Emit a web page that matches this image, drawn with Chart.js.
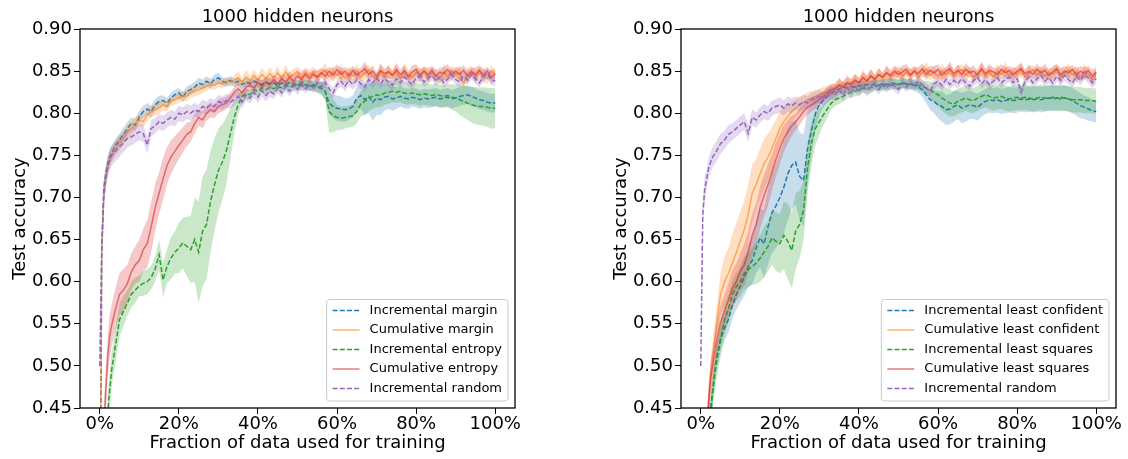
<!DOCTYPE html>
<html>
<head>
<meta charset="utf-8">
<script src="https://cdn.jsdelivr.net/npm/chart.js@4.4.1/dist/chart.umd.min.js"></script>
<style>
  body { margin: 0; background: #fff; width: 1128px; height: 459px; overflow: hidden; position: relative; }
  canvas { position: absolute; top: 0; }
</style>
</head>
<body>
<canvas id="leftChart" width="540" height="459" style="left:0px"></canvas>
<canvas id="rightChart" width="527" height="459" style="left:601px"></canvas>
<script>
// fraction of the data used for training (%)
const fractions = [0, 0.5, 1, 1.5, 2, 2.5, 3,
  4, 5, 6, 7, 8, 9, 10, 11, 12, 13,
  14, 15, 16, 17, 18, 19, 20, 21, 22, 23,
  24, 25, 26, 27, 28, 29, 30, 31, 32, 33,
  34, 35, 36, 37, 38, 39, 40, 41, 42, 43,
  44, 45, 46, 47, 48, 49, 50, 51, 52, 53,
  54, 55, 56, 57, 58, 59, 60, 61, 62, 63,
  64, 65, 66, 67, 68, 69, 70, 71, 72, 73,
  74, 75, 76, 77, 78, 79, 80, 81, 82, 83,
  84, 85, 86, 87, 88, 89, 90, 91, 92, 93,
  94, 95, 96, 97, 98, 99, 100];

const xTicks = [0, 20, 40, 60, 80, 100];
const yTicks = [0.45, 0.50, 0.55, 0.60, 0.65, 0.70, 0.75, 0.80, 0.85, 0.90];

// ---- left panel: margin / entropy sampling ----
const leftLabels = ['Incremental margin', 'Cumulative margin', 'Incremental entropy', 'Cumulative entropy', 'Incremental random'];

const marginInc = [0.20, 0.64, 0.71, 0.728, 0.740, 0.748, 0.752,
  0.762, 0.768, 0.775, 0.782, 0.788, 0.786, 0.796, 0.802, 0.805, 0.802,
  0.810, 0.814, 0.815, 0.812, 0.818, 0.822, 0.824, 0.819, 0.826, 0.828,
  0.831, 0.836, 0.834, 0.838, 0.835, 0.840, 0.842, 0.838, 0.836, 0.839,
  0.836, 0.838, 0.834, 0.837, 0.835, 0.838, 0.836, 0.834, 0.837, 0.835,
  0.836, 0.833, 0.836, 0.834, 0.836, 0.835, 0.833, 0.836, 0.834, 0.832,
  0.834, 0.831, 0.830, 0.826, 0.812, 0.808, 0.806, 0.805, 0.804, 0.805,
  0.808, 0.818, 0.821, 0.816, 0.820, 0.813, 0.818, 0.816, 0.819, 0.820,
  0.817, 0.818, 0.820, 0.818, 0.817, 0.819, 0.818, 0.816, 0.818, 0.817,
  0.818, 0.819, 0.817, 0.818, 0.819, 0.817, 0.818, 0.820, 0.821, 0.822,
  0.820, 0.818, 0.816, 0.815, 0.813, 0.812, 0.812];
const marginIncSd = [0.010, 0.012, 0.012, 0.010, 0.010, 0.009, 0.009,
  0.008, 0.008, 0.008, 0.008, 0.007, 0.007, 0.007, 0.007, 0.007, 0.007,
  0.007, 0.007, 0.006, 0.006, 0.006, 0.006, 0.006, 0.006, 0.006, 0.006,
  0.006, 0.006, 0.006, 0.006, 0.006, 0.006, 0.006, 0.005, 0.005, 0.005,
  0.005, 0.005, 0.005, 0.005, 0.005, 0.005, 0.005, 0.005, 0.005, 0.005,
  0.005, 0.005, 0.005, 0.005, 0.005, 0.005, 0.005, 0.005, 0.006, 0.006,
  0.006, 0.007, 0.008, 0.010, 0.012, 0.014, 0.015, 0.015, 0.014, 0.013,
  0.013, 0.014, 0.016, 0.018, 0.020, 0.022, 0.020, 0.018, 0.016, 0.015,
  0.014, 0.013, 0.012, 0.012, 0.012, 0.011, 0.011, 0.011, 0.011, 0.011,
  0.011, 0.011, 0.011, 0.011, 0.011, 0.011, 0.011, 0.011, 0.011, 0.011,
  0.011, 0.011, 0.011, 0.011, 0.011, 0.011, 0.011];

const marginCum = [0.25, 0.63, 0.70, 0.722, 0.735, 0.744, 0.750,
  0.758, 0.765, 0.770, 0.778, 0.782, 0.788, 0.792, 0.790, 0.798, 0.802,
  0.804, 0.806, 0.810, 0.808, 0.814, 0.816, 0.818, 0.821, 0.820, 0.825,
  0.826, 0.828, 0.830, 0.832, 0.834, 0.833, 0.836, 0.835, 0.838, 0.837,
  0.839, 0.842, 0.837, 0.843, 0.839, 0.845, 0.840, 0.846, 0.841, 0.847,
  0.842, 0.848, 0.841, 0.849, 0.843, 0.846, 0.850, 0.842, 0.848, 0.844,
  0.849, 0.842, 0.847, 0.851, 0.843, 0.849, 0.845, 0.850, 0.841, 0.848,
  0.844, 0.850, 0.842, 0.848, 0.851, 0.844, 0.840, 0.849, 0.843, 0.850,
  0.845, 0.849, 0.841, 0.851, 0.846, 0.842, 0.849, 0.844, 0.850, 0.843,
  0.848, 0.845, 0.840, 0.849, 0.843, 0.850, 0.846, 0.848, 0.835, 0.847,
  0.850, 0.843, 0.849, 0.845, 0.841, 0.850, 0.846];
const marginCumSd = [0.012, 0.015, 0.012, 0.010, 0.010, 0.010, 0.009,
  0.009, 0.009, 0.008, 0.008, 0.008, 0.008, 0.007, 0.007, 0.007, 0.007,
  0.007, 0.007, 0.007, 0.006, 0.006, 0.006, 0.006, 0.006, 0.006, 0.006,
  0.006, 0.006, 0.006, 0.005, 0.005, 0.005, 0.005, 0.005, 0.005, 0.005,
  0.006, 0.008, 0.005, 0.009, 0.006, 0.007, 0.005, 0.009, 0.006, 0.008,
  0.006, 0.008, 0.005, 0.009, 0.006, 0.007, 0.005, 0.009, 0.006, 0.008,
  0.006, 0.008, 0.005, 0.009, 0.006, 0.007, 0.005, 0.009, 0.006, 0.008,
  0.006, 0.008, 0.005, 0.009, 0.006, 0.007, 0.005, 0.009, 0.006, 0.008,
  0.006, 0.008, 0.005, 0.009, 0.006, 0.007, 0.005, 0.009, 0.006, 0.008,
  0.006, 0.008, 0.005, 0.009, 0.006, 0.007, 0.005, 0.009, 0.006, 0.008,
  0.006, 0.008, 0.005, 0.009, 0.006, 0.007, 0.005];

const entropyInc = [0.10, 0.20, 0.30, 0.38, 0.445, 0.47, 0.495,
  0.525, 0.555, 0.565, 0.575, 0.585, 0.590, 0.595, 0.598, 0.600, 0.605,
  0.615, 0.632, 0.602, 0.618, 0.628, 0.635, 0.640, 0.646, 0.642, 0.638,
  0.650, 0.635, 0.660, 0.668, 0.695, 0.715, 0.732, 0.742, 0.755, 0.775,
  0.795, 0.810, 0.820, 0.823, 0.822, 0.828, 0.826, 0.830, 0.828, 0.831,
  0.829, 0.832, 0.830, 0.833, 0.831, 0.833, 0.834, 0.832, 0.834, 0.833,
  0.832, 0.831, 0.830, 0.826, 0.802, 0.797, 0.795, 0.794, 0.795, 0.796,
  0.797, 0.802, 0.811, 0.814, 0.818, 0.820, 0.822, 0.821, 0.824, 0.825,
  0.826, 0.825, 0.826, 0.824, 0.823, 0.824, 0.823, 0.822, 0.823, 0.822,
  0.821, 0.822, 0.821, 0.820, 0.821, 0.819, 0.818, 0.816, 0.814, 0.812,
  0.810, 0.809, 0.808, 0.808, 0.807, 0.806, 0.806];
const entropyIncSd = [0.020, 0.020, 0.020, 0.020, 0.020, 0.020, 0.020,
  0.020, 0.020, 0.018, 0.015, 0.015, 0.015, 0.012, 0.015, 0.015, 0.014,
  0.015, 0.018, 0.020, 0.020, 0.025, 0.025, 0.030, 0.030, 0.035, 0.040,
  0.050, 0.060, 0.065, 0.065, 0.060, 0.055, 0.050, 0.045, 0.040, 0.030,
  0.020, 0.012, 0.008, 0.007, 0.006, 0.006, 0.006, 0.006, 0.006, 0.006,
  0.006, 0.006, 0.006, 0.006, 0.006, 0.006, 0.006, 0.006, 0.006, 0.006,
  0.006, 0.006, 0.007, 0.010, 0.025, 0.020, 0.015, 0.014, 0.013, 0.013,
  0.013, 0.014, 0.015, 0.016, 0.016, 0.015, 0.015, 0.014, 0.014, 0.014,
  0.013, 0.013, 0.013, 0.013, 0.013, 0.013, 0.013, 0.013, 0.013, 0.013,
  0.013, 0.013, 0.013, 0.013, 0.014, 0.015, 0.016, 0.018, 0.019, 0.020,
  0.021, 0.022, 0.022, 0.023, 0.023, 0.024, 0.024];

const entropyCum = [0.20, 0.30, 0.42, 0.47, 0.51, 0.535, 0.548,
  0.568, 0.585, 0.590, 0.598, 0.612, 0.620, 0.625, 0.638, 0.645, 0.665,
  0.688, 0.705, 0.722, 0.738, 0.748, 0.755, 0.762, 0.768, 0.775, 0.778,
  0.788, 0.795, 0.792, 0.800, 0.804, 0.802, 0.808, 0.810, 0.812, 0.818,
  0.825, 0.829, 0.824, 0.831, 0.833, 0.830, 0.836, 0.832, 0.837, 0.834,
  0.840, 0.835, 0.841, 0.837, 0.843, 0.838, 0.844, 0.840, 0.846, 0.841,
  0.846, 0.843, 0.848, 0.844, 0.850, 0.845, 0.852, 0.846, 0.850, 0.844,
  0.851, 0.845, 0.849, 0.853, 0.846, 0.850, 0.844, 0.851, 0.847, 0.849,
  0.845, 0.852, 0.846, 0.850, 0.843, 0.849, 0.852, 0.845, 0.850, 0.846,
  0.851, 0.844, 0.849, 0.847, 0.852, 0.845, 0.850, 0.846, 0.851, 0.844,
  0.849, 0.846, 0.851, 0.845, 0.850, 0.842, 0.847];
const entropyCumSd = [0.020, 0.025, 0.025, 0.025, 0.025, 0.025, 0.025,
  0.025, 0.025, 0.025, 0.022, 0.022, 0.022, 0.025, 0.025, 0.028, 0.030,
  0.028, 0.025, 0.025, 0.022, 0.020, 0.018, 0.016, 0.015, 0.014, 0.012,
  0.012, 0.010, 0.010, 0.009, 0.009, 0.008, 0.008, 0.008, 0.007, 0.007,
  0.006, 0.008, 0.006, 0.007, 0.006, 0.008, 0.006, 0.007, 0.006, 0.008,
  0.005, 0.007, 0.005, 0.008, 0.006, 0.007, 0.005, 0.008, 0.006, 0.007,
  0.005, 0.008, 0.006, 0.007, 0.005, 0.008, 0.006, 0.007, 0.005, 0.008,
  0.005, 0.007, 0.005, 0.008, 0.006, 0.007, 0.005, 0.008, 0.006, 0.007,
  0.005, 0.008, 0.006, 0.007, 0.005, 0.008, 0.006, 0.007, 0.005, 0.008,
  0.005, 0.007, 0.005, 0.008, 0.006, 0.007, 0.005, 0.008, 0.006, 0.007,
  0.005, 0.008, 0.006, 0.007, 0.005, 0.008, 0.006];

const randomLeft = [0.50, 0.64, 0.70, 0.722, 0.735, 0.745, 0.750,
  0.755, 0.760, 0.765, 0.770, 0.772, 0.775, 0.778, 0.776, 0.762, 0.782,
  0.785, 0.790, 0.788, 0.792, 0.795, 0.793, 0.800, 0.798, 0.802, 0.800,
  0.804, 0.802, 0.808, 0.806, 0.810, 0.808, 0.814, 0.812, 0.815, 0.813,
  0.816, 0.820, 0.813, 0.822, 0.818, 0.825, 0.819, 0.827, 0.821, 0.826,
  0.823, 0.830, 0.824, 0.832, 0.826, 0.833, 0.828, 0.835, 0.829, 0.834,
  0.830, 0.836, 0.831, 0.837, 0.829, 0.824, 0.834, 0.838, 0.832, 0.839,
  0.834, 0.840, 0.835, 0.831, 0.840, 0.836, 0.842, 0.835, 0.841, 0.837,
  0.833, 0.841, 0.836, 0.843, 0.838, 0.834, 0.842, 0.844, 0.837, 0.841,
  0.845, 0.838, 0.843, 0.836, 0.841, 0.846, 0.840, 0.837, 0.844, 0.839,
  0.846, 0.841, 0.836, 0.844, 0.847, 0.840, 0.838];
const randomLeftSd = [0.010, 0.015, 0.015, 0.012, 0.012, 0.012, 0.012,
  0.012, 0.012, 0.011, 0.011, 0.010, 0.010, 0.010, 0.010, 0.010, 0.010,
  0.009, 0.009, 0.009, 0.009, 0.009, 0.009, 0.009, 0.009, 0.009, 0.009,
  0.008, 0.008, 0.008, 0.008, 0.008, 0.008, 0.008, 0.008, 0.008, 0.008,
  0.007, 0.007, 0.007, 0.007, 0.007, 0.007, 0.007, 0.007, 0.007, 0.007,
  0.006, 0.006, 0.006, 0.006, 0.006, 0.006, 0.006, 0.006, 0.006, 0.006,
  0.006, 0.006, 0.006, 0.006, 0.006, 0.006, 0.006, 0.006, 0.006, 0.006,
  0.006, 0.006, 0.006, 0.006, 0.006, 0.006, 0.006, 0.006, 0.006, 0.006,
  0.006, 0.006, 0.006, 0.006, 0.006, 0.006, 0.006, 0.006, 0.006, 0.006,
  0.006, 0.006, 0.006, 0.006, 0.006, 0.006, 0.006, 0.006, 0.006, 0.006,
  0.006, 0.006, 0.006, 0.006, 0.006, 0.006, 0.006];

// ---- right panel: least confident / least squares sampling ----
const rightLabels = ['Incremental least confident', 'Cumulative least confident', 'Incremental least squares', 'Cumulative least squares', 'Incremental random'];

const lcInc = [0.10, 0.20, 0.30, 0.38, 0.43, 0.45, 0.47,
  0.510, 0.532, 0.545, 0.555, 0.572, 0.585, 0.595, 0.605, 0.618, 0.625,
  0.640, 0.652, 0.645, 0.665, 0.682, 0.690, 0.700, 0.712, 0.728, 0.738,
  0.742, 0.725, 0.720, 0.758, 0.780, 0.800, 0.810, 0.816, 0.820, 0.824,
  0.826, 0.829, 0.831, 0.830, 0.832, 0.831, 0.833, 0.832, 0.834, 0.833,
  0.835, 0.833, 0.835, 0.834, 0.836, 0.835, 0.834, 0.836, 0.835, 0.834,
  0.833, 0.831, 0.828, 0.822, 0.816, 0.814, 0.810, 0.808, 0.804, 0.805,
  0.808, 0.810, 0.806, 0.808, 0.810, 0.809, 0.807, 0.811, 0.814, 0.816,
  0.815, 0.816, 0.814, 0.815, 0.816, 0.815, 0.816, 0.817, 0.816, 0.817,
  0.816, 0.817, 0.816, 0.817, 0.818, 0.817, 0.818, 0.819, 0.818, 0.817,
  0.815, 0.812, 0.809, 0.807, 0.805, 0.803, 0.802];
const lcIncSd = [0.015, 0.015, 0.015, 0.015, 0.015, 0.015, 0.015,
  0.015, 0.015, 0.015, 0.016, 0.016, 0.018, 0.020, 0.022, 0.025, 0.028,
  0.030, 0.035, 0.040, 0.045, 0.048, 0.050, 0.052, 0.055, 0.055, 0.052,
  0.050, 0.052, 0.055, 0.045, 0.030, 0.018, 0.012, 0.009, 0.008, 0.007,
  0.007, 0.006, 0.006, 0.006, 0.006, 0.006, 0.006, 0.006, 0.006, 0.006,
  0.006, 0.006, 0.006, 0.006, 0.006, 0.006, 0.006, 0.006, 0.006, 0.006,
  0.006, 0.007, 0.008, 0.010, 0.012, 0.014, 0.016, 0.018, 0.018, 0.018,
  0.018, 0.017, 0.018, 0.018, 0.017, 0.016, 0.016, 0.015, 0.015, 0.015,
  0.015, 0.015, 0.015, 0.015, 0.015, 0.015, 0.015, 0.015, 0.015, 0.015,
  0.015, 0.015, 0.015, 0.015, 0.015, 0.015, 0.015, 0.015, 0.015, 0.015,
  0.015, 0.015, 0.015, 0.014, 0.014, 0.013, 0.013];

const lcCum = [0.10, 0.20, 0.30, 0.40, 0.455, 0.49, 0.51,
  0.550, 0.585, 0.600, 0.610, 0.622, 0.635, 0.648, 0.662, 0.680, 0.705,
  0.715, 0.728, 0.740, 0.748, 0.758, 0.770, 0.782, 0.790, 0.796, 0.802,
  0.806, 0.810, 0.813, 0.816, 0.818, 0.820, 0.822, 0.824, 0.826, 0.828,
  0.830, 0.834, 0.831, 0.837, 0.835, 0.840, 0.836, 0.843, 0.839, 0.845,
  0.841, 0.846, 0.842, 0.848, 0.843, 0.847, 0.850, 0.844, 0.849, 0.845,
  0.851, 0.843, 0.848, 0.852, 0.845, 0.849, 0.843, 0.850, 0.846, 0.851,
  0.844, 0.849, 0.852, 0.845, 0.850, 0.842, 0.848, 0.851, 0.845, 0.849,
  0.843, 0.850, 0.846, 0.852, 0.844, 0.849, 0.847, 0.851, 0.843, 0.848,
  0.852, 0.845, 0.850, 0.844, 0.849, 0.846, 0.852, 0.843, 0.848, 0.851,
  0.845, 0.849, 0.842, 0.850, 0.846, 0.840, 0.848];
const lcCumSd = [0.020, 0.020, 0.020, 0.020, 0.020, 0.020, 0.020,
  0.020, 0.025, 0.030, 0.030, 0.035, 0.035, 0.035, 0.035, 0.035, 0.035,
  0.030, 0.030, 0.030, 0.028, 0.025, 0.022, 0.020, 0.018, 0.015, 0.012,
  0.010, 0.010, 0.009, 0.009, 0.008, 0.008, 0.007, 0.007, 0.007, 0.007,
  0.006, 0.008, 0.006, 0.009, 0.006, 0.007, 0.005, 0.009, 0.006, 0.008,
  0.005, 0.008, 0.006, 0.009, 0.005, 0.007, 0.006, 0.009, 0.005, 0.008,
  0.006, 0.008, 0.005, 0.009, 0.006, 0.007, 0.005, 0.009, 0.006, 0.008,
  0.005, 0.008, 0.006, 0.009, 0.005, 0.007, 0.006, 0.009, 0.005, 0.008,
  0.006, 0.008, 0.005, 0.009, 0.006, 0.007, 0.005, 0.009, 0.006, 0.008,
  0.005, 0.008, 0.006, 0.009, 0.005, 0.007, 0.006, 0.009, 0.005, 0.008,
  0.006, 0.008, 0.005, 0.009, 0.006, 0.007, 0.005];

const lsInc = [0.10, 0.20, 0.28, 0.35, 0.40, 0.44, 0.47,
  0.505, 0.530, 0.555, 0.568, 0.585, 0.594, 0.600, 0.610, 0.614, 0.618,
  0.622, 0.628, 0.635, 0.642, 0.652, 0.648, 0.645, 0.655, 0.648, 0.637,
  0.660, 0.668, 0.685, 0.735, 0.765, 0.782, 0.790, 0.798, 0.805, 0.812,
  0.816, 0.818, 0.820, 0.823, 0.825, 0.826, 0.828, 0.830, 0.829, 0.831,
  0.832, 0.833, 0.832, 0.834, 0.833, 0.835, 0.834, 0.836, 0.835, 0.834,
  0.835, 0.833, 0.832, 0.830, 0.828, 0.824, 0.822, 0.818, 0.815, 0.812,
  0.811, 0.814, 0.816, 0.818, 0.816, 0.815, 0.818, 0.820, 0.822, 0.820,
  0.818, 0.819, 0.820, 0.818, 0.817, 0.818, 0.819, 0.818, 0.819, 0.818,
  0.817, 0.818, 0.819, 0.818, 0.818, 0.819, 0.818, 0.817, 0.818, 0.817,
  0.816, 0.816, 0.816, 0.815, 0.815, 0.815, 0.814];
const lsIncSd = [0.020, 0.020, 0.020, 0.020, 0.020, 0.020, 0.020,
  0.020, 0.020, 0.018, 0.016, 0.016, 0.016, 0.018, 0.020, 0.020, 0.022,
  0.025, 0.028, 0.030, 0.030, 0.032, 0.035, 0.035, 0.040, 0.045, 0.045,
  0.045, 0.040, 0.035, 0.030, 0.025, 0.020, 0.015, 0.012, 0.010, 0.008,
  0.007, 0.007, 0.006, 0.006, 0.006, 0.006, 0.006, 0.006, 0.006, 0.006,
  0.006, 0.006, 0.006, 0.006, 0.006, 0.006, 0.006, 0.006, 0.006, 0.006,
  0.006, 0.006, 0.007, 0.008, 0.010, 0.012, 0.014, 0.015, 0.016, 0.016,
  0.015, 0.015, 0.015, 0.015, 0.015, 0.015, 0.015, 0.015, 0.015, 0.015,
  0.015, 0.015, 0.015, 0.015, 0.015, 0.015, 0.015, 0.015, 0.015, 0.015,
  0.015, 0.015, 0.015, 0.015, 0.015, 0.015, 0.015, 0.015, 0.015, 0.015,
  0.015, 0.015, 0.015, 0.015, 0.015, 0.015, 0.015];

const lsCum = [0.10, 0.20, 0.32, 0.42, 0.46, 0.485, 0.50,
  0.530, 0.552, 0.565, 0.578, 0.592, 0.600, 0.612, 0.620, 0.635, 0.655,
  0.668, 0.688, 0.702, 0.715, 0.730, 0.745, 0.758, 0.770, 0.778, 0.785,
  0.790, 0.796, 0.802, 0.807, 0.810, 0.813, 0.816, 0.820, 0.824, 0.827,
  0.829, 0.833, 0.831, 0.836, 0.834, 0.839, 0.836, 0.842, 0.838, 0.844,
  0.840, 0.846, 0.843, 0.848, 0.845, 0.850, 0.846, 0.849, 0.852, 0.845,
  0.850, 0.847, 0.853, 0.846, 0.851, 0.848, 0.852, 0.845, 0.850, 0.853,
  0.847, 0.851, 0.846, 0.852, 0.848, 0.850, 0.845, 0.853, 0.847, 0.851,
  0.849, 0.846, 0.852, 0.848, 0.851, 0.845, 0.850, 0.853, 0.847, 0.850,
  0.846, 0.852, 0.848, 0.851, 0.845, 0.849, 0.853, 0.846, 0.850, 0.848,
  0.852, 0.845, 0.850, 0.847, 0.851, 0.844, 0.849];
const lsCumSd = [0.020, 0.020, 0.020, 0.020, 0.020, 0.020, 0.020,
  0.020, 0.020, 0.020, 0.020, 0.022, 0.022, 0.022, 0.025, 0.025, 0.025,
  0.025, 0.025, 0.025, 0.025, 0.022, 0.020, 0.018, 0.016, 0.014, 0.012,
  0.010, 0.010, 0.009, 0.009, 0.008, 0.008, 0.007, 0.007, 0.007, 0.007,
  0.006, 0.008, 0.006, 0.007, 0.006, 0.008, 0.006, 0.007, 0.006, 0.008,
  0.005, 0.007, 0.005, 0.008, 0.006, 0.007, 0.005, 0.008, 0.006, 0.007,
  0.005, 0.008, 0.006, 0.007, 0.005, 0.008, 0.006, 0.007, 0.005, 0.008,
  0.005, 0.007, 0.005, 0.008, 0.006, 0.007, 0.005, 0.008, 0.006, 0.007,
  0.005, 0.008, 0.006, 0.007, 0.005, 0.008, 0.006, 0.007, 0.005, 0.008,
  0.005, 0.007, 0.005, 0.008, 0.006, 0.007, 0.005, 0.008, 0.006, 0.007,
  0.005, 0.008, 0.006, 0.007, 0.005, 0.008, 0.006];

const randomRight = [0.50, 0.68, 0.71, 0.722, 0.735, 0.742, 0.748,
  0.755, 0.764, 0.768, 0.775, 0.778, 0.782, 0.786, 0.790, 0.776, 0.795,
  0.792, 0.798, 0.802, 0.800, 0.806, 0.808, 0.810, 0.806, 0.811, 0.809,
  0.812, 0.810, 0.814, 0.812, 0.816, 0.818, 0.820, 0.817, 0.822, 0.824,
  0.822, 0.828, 0.821, 0.830, 0.824, 0.832, 0.826, 0.833, 0.827, 0.831,
  0.834, 0.828, 0.835, 0.830, 0.836, 0.832, 0.828, 0.836, 0.831, 0.837,
  0.832, 0.838, 0.834, 0.830, 0.826, 0.835, 0.838, 0.833, 0.840, 0.834,
  0.839, 0.835, 0.841, 0.836, 0.832, 0.839, 0.842, 0.835, 0.840, 0.834,
  0.838, 0.842, 0.836, 0.840, 0.843, 0.836, 0.841, 0.825, 0.838, 0.843,
  0.836, 0.841, 0.845, 0.838, 0.842, 0.836, 0.844, 0.839, 0.845, 0.840,
  0.836, 0.844, 0.839, 0.846, 0.842, 0.836, 0.841];
const randomRightSd = [0.010, 0.015, 0.015, 0.012, 0.012, 0.012, 0.012,
  0.012, 0.012, 0.011, 0.011, 0.010, 0.010, 0.010, 0.010, 0.010, 0.010,
  0.009, 0.009, 0.009, 0.009, 0.009, 0.009, 0.009, 0.009, 0.009, 0.009,
  0.008, 0.008, 0.008, 0.008, 0.008, 0.008, 0.008, 0.008, 0.008, 0.008,
  0.007, 0.007, 0.007, 0.007, 0.007, 0.007, 0.007, 0.007, 0.007, 0.007,
  0.006, 0.006, 0.006, 0.006, 0.006, 0.006, 0.006, 0.006, 0.006, 0.006,
  0.006, 0.006, 0.006, 0.006, 0.006, 0.006, 0.006, 0.006, 0.006, 0.006,
  0.006, 0.006, 0.006, 0.006, 0.006, 0.006, 0.006, 0.006, 0.006, 0.006,
  0.006, 0.006, 0.006, 0.006, 0.006, 0.006, 0.006, 0.006, 0.006, 0.006,
  0.006, 0.006, 0.006, 0.006, 0.006, 0.006, 0.006, 0.006, 0.006, 0.006,
  0.006, 0.006, 0.006, 0.006, 0.006, 0.006, 0.006];

// tab10 colours
const BLUE = '#1f77b4', ORANGE = '#ff7f0e', GREEN = '#2ca02c', RED = '#d62728', PURPLE = '#9467bd';

Chart.defaults.font.family = "'DejaVu Sans', sans-serif";
Chart.defaults.color = '#000';

function rgba(hex, a) {
  const n = parseInt(hex.slice(1), 16);
  return `rgba(${n >> 16},${(n >> 8) & 255},${n & 255},${a})`;
}

function points(values, spread, sign) {
  return fractions.map((x, i) => ({ x, y: values[i] + sign * spread[i] }));
}

// every series gets a shaded band (mean +/- spread) and its mean line
function buildDatasets(series) {
  const sets = [];
  series.forEach((s, k) => {
    const base = 1000 - k * 3;
    sets.push({
      data: points(s.values, s.spread, 1), fill: '+1',
      backgroundColor: rgba(s.color, 0.25), borderColor: 'transparent',
      borderWidth: 0, pointRadius: 0, order: base, clip: 0
    });
    sets.push({
      data: points(s.values, s.spread, -1), fill: false,
      borderColor: 'transparent', borderWidth: 0, pointRadius: 0, order: base - 1, clip: 0
    });
    sets.push({
      label: s.label, legendEntry: true,
      data: points(s.values, s.spread, 0), fill: false,
      borderColor: s.dashed ? s.color : rgba(s.color, 0.6),
      borderWidth: 1.5, borderDash: s.dashed ? [5, 2.2] : [],
      pointRadius: 0, order: base - 2, clip: 0
    });
  });
  return sets;
}

// axes frame + legend box in the lower right corner of the plot area
const panelDecor = {
  id: 'panelDecor',
  afterDatasetsDraw(chart) {
    const { ctx, chartArea: a } = chart;
    ctx.save();
    ctx.strokeStyle = '#000';
    ctx.lineWidth = 1.3;
    ctx.strokeRect(a.left, a.top, a.right - a.left, a.bottom - a.top);

    const entries = chart.data.datasets.filter(d => d.legendEntry);
    ctx.font = "13px 'DejaVu Sans'";
    const textW = Math.max(...entries.map(e => ctx.measureText(e.label).width));
    const rowH = 19.5;
    const w = 6 + 27 + 10 + textW + 6;
    const h = rowH * entries.length + 4;
    const x = a.right - 7 - w;
    const y = a.bottom - 7 - h;
    ctx.beginPath();
    ctx.roundRect(x, y, w, h, 3);
    ctx.fillStyle = 'rgba(255,255,255,0.8)';
    ctx.fill();
    ctx.strokeStyle = '#cccccc';
    ctx.lineWidth = 1;
    ctx.stroke();

    entries.forEach((e, i) => {
      const cy = y + 11 + i * rowH;
      ctx.beginPath();
      ctx.setLineDash(e.borderDash);
      ctx.strokeStyle = e.borderColor;
      ctx.lineWidth = 1.5;
      ctx.moveTo(x + 6, cy);
      ctx.lineTo(x + 33, cy);
      ctx.stroke();
      ctx.setLineDash([]);
      ctx.fillStyle = '#000';
      ctx.textBaseline = 'middle';
      ctx.textAlign = 'left';
      ctx.fillText(e.label, x + 43, cy);
    });
    ctx.restore();
  }
};

function makeChart(canvasId, series, rightPad) {
  return new Chart(document.getElementById(canvasId), {
    type: 'line',
    data: { datasets: buildDatasets(series) },
    options: {
      responsive: false,
      animation: false,
      events: [],
      layout: { padding: { left: 0, right: rightPad, top: 0, bottom: 0 } },
      plugins: {
        legend: { display: false },
        tooltip: { enabled: false },
        title: {
          display: true, text: '1000 hidden neurons', fullSize: false,
          font: { size: 18, weight: 'normal' },
          padding: { top: 7, bottom: 0.4 }
        }
      },
      scales: {
        x: {
          type: 'linear', min: -5, max: 105,
          afterBuildTicks: axis => { axis.ticks = xTicks.map(value => ({ value })); },
          afterFit: axis => { axis.height = 51; },
          border: { display: false },
          grid: { drawOnChartArea: false, drawTicks: true, tickLength: 6, color: '#000' },
          ticks: { font: { size: 18 }, padding: 0, maxRotation: 0, callback: v => v + '%' },
          title: { display: true, text: 'Fraction of data used for training', font: { size: 18 }, padding: { top: 0, bottom: 5 } }
        },
        y: {
          min: 0.45, max: 0.90,
          afterBuildTicks: axis => { axis.ticks = yTicks.map(value => ({ value })); },
          afterFit: axis => { axis.width = 80; },
          border: { display: false },
          grid: { drawOnChartArea: false, drawTicks: true, tickLength: 6, color: '#000' },
          ticks: { font: { size: 18 }, padding: 2, callback: v => v.toFixed(2) },
          title: { display: true, text: 'Test accuracy', font: { size: 18 }, padding: { top: 10, bottom: 0 } }
        }
      }
    },
    plugins: [panelDecor]
  });
}

makeChart('leftChart', [
  { label: leftLabels[0], values: marginInc, spread: marginIncSd, color: BLUE, dashed: true },
  { label: leftLabels[1], values: marginCum, spread: marginCumSd, color: ORANGE, dashed: false },
  { label: leftLabels[2], values: entropyInc, spread: entropyIncSd, color: GREEN, dashed: true },
  { label: leftLabels[3], values: entropyCum, spread: entropyCumSd, color: RED, dashed: false },
  { label: leftLabels[4], values: randomLeft, spread: randomLeftSd, color: PURPLE, dashed: true }
], 25);

makeChart('rightChart', [
  { label: rightLabels[0], values: lcInc, spread: lcIncSd, color: BLUE, dashed: true },
  { label: rightLabels[1], values: lcCum, spread: lcCumSd, color: ORANGE, dashed: false },
  { label: rightLabels[2], values: lsInc, spread: lsIncSd, color: GREEN, dashed: true },
  { label: rightLabels[3], values: lsCum, spread: lsCumSd, color: RED, dashed: false },
  { label: rightLabels[4], values: randomRight, spread: randomRightSd, color: PURPLE, dashed: true }
], 12);
</script>
</body>
</html>
